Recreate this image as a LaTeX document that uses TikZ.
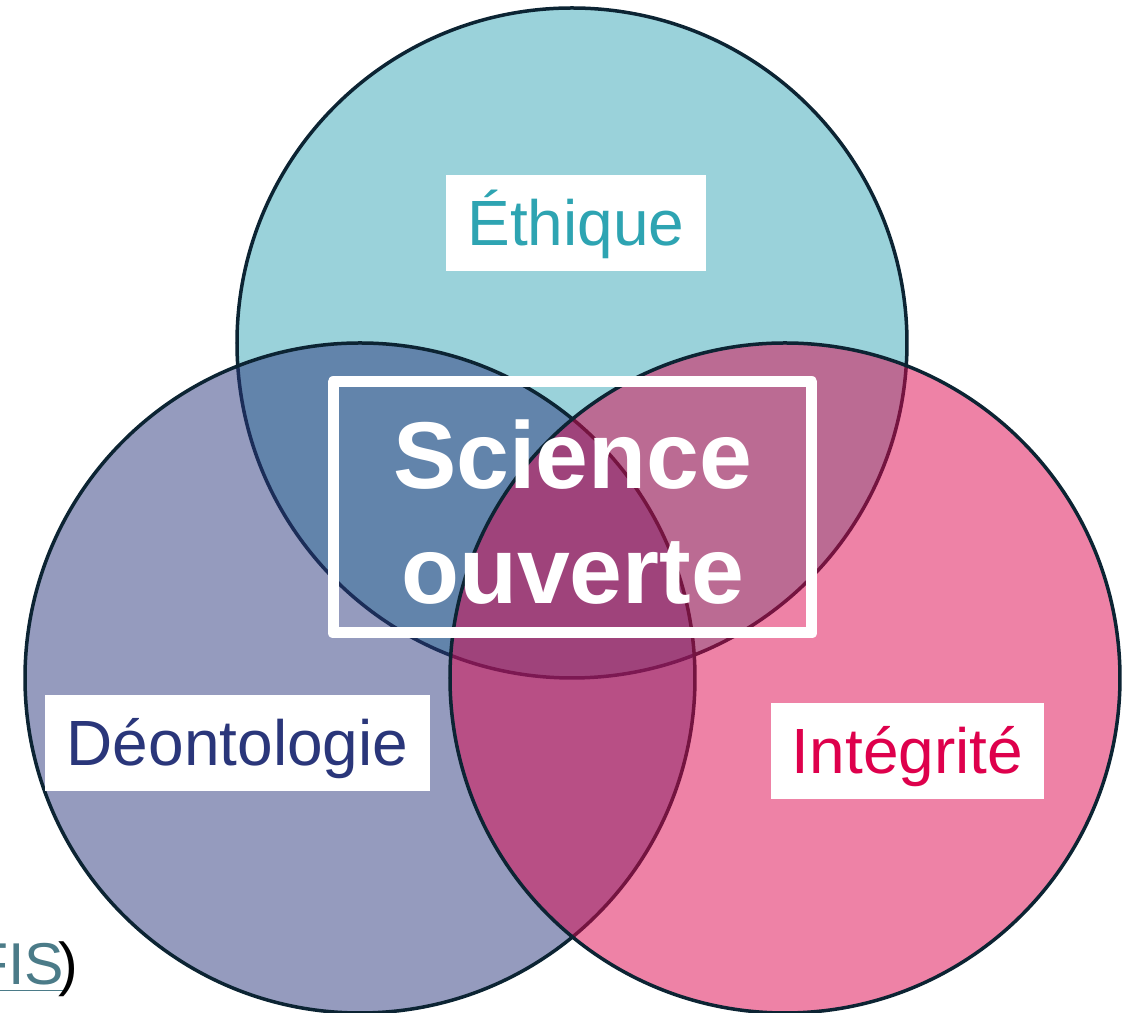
\documentclass[tikz,border=0pt]{standalone}
\usepackage{fontspec}
\setmainfont{Liberation Sans}
\usetikzlibrary{shapes}

\definecolor{outline}{RGB}{12,36,51}
\definecolor{ethiquefill}{RGB}{53,165,181}
\definecolor{deontofill}{RGB}{43,55,125}
\definecolor{integfill}{RGB}{221,5,77}
\definecolor{ethiquetext}{RGB}{46,164,178}
\definecolor{deontotext}{RGB}{42,54,122}
\definecolor{integtext}{RGB}{222,0,76}
\definecolor{linkcolor}{RGB}{75,123,136}

\begin{document}
\begin{tikzpicture}[every sphere/.style = {circle, minimum size=6.7cm, inner sep=0pt, draw=outline,
                            line width=0.035cm, fill opacity=0.5},
                    ethique sphere/.style = {fill=ethiquefill, every sphere},
                    deonto sphere/.style = {fill=deontofill, every sphere},
                    integ sphere/.style = {fill=integfill, every sphere},
                    label box/.style = {rectangle, fill=white, inner sep=0pt, minimum height=0.96cm,
                            text height=0.62cm, text depth=0.16cm, font=\fontsize{18.2}{22}\selectfont},
                    cadre/.style = {rectangle, draw=white, line width=0.11cm, line join=round,
                            minimum width=4.79cm, minimum height=2.51cm, inner sep=0pt},
                    central/.style = {align=center, text=white, inner sep=0pt,
                            font=\bfseries\fontsize{27}{32.7}\selectfont} ]

                \useasboundingbox (0,0) rectangle (11.33,10.13);

                % the three circles, top first
                \node [ethique sphere] (ethique) at (5.72,6.70) {};
                \node [deonto sphere] (deonto) at (3.60,3.35) {};
                \node [integ sphere] (integ) at (7.85,3.35) {};

                % labels
                \node [label box, minimum width=2.60cm, text=ethiquetext] (lethique) at (5.76,7.90) {Éthique};
                \node [label box, minimum width=3.85cm, text=deontotext] (ldeonto) at (2.375,2.70) {Déontologie};
                \node [label box, minimum width=2.73cm, text=integtext] (linteg) at (9.075,2.62) {Intégrité};

                % centre
                \node [cadre] (frame) at (5.725,5.055) {};
                \node [central] (science) at (5.725,5.01) {Science\\ouverte};

                % cut text bottom left
                \node [anchor=base east, inner sep=0pt, font=\fontsize{16.8}{20}\selectfont] (fis) at (0.788,0.28)
                      {\textcolor{linkcolor}{\underline{FIS}}\kern-0.1em)};

            \end{tikzpicture}
\end{document}
